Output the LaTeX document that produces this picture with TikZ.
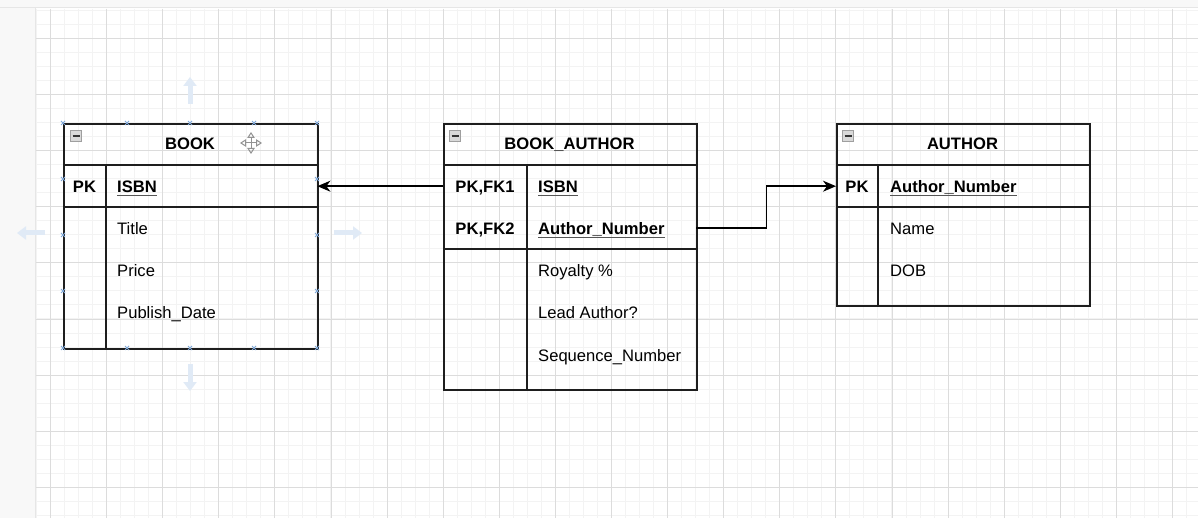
\documentclass[tikz,border=0pt]{standalone}
\usepackage{fontspec}
\setmainfont{Liberation Sans}
\usetikzlibrary{arrows.meta}
\definecolor{gridmaj}{HTML}{DCDCDC}
\definecolor{gridmin}{HTML}{F3F3F3}
\definecolor{stripbg}{HTML}{F8F8F8}
\definecolor{stripline}{HTML}{E6E6E6}
\definecolor{border}{HTML}{1E1E1E}
\definecolor{uiblue}{HTML}{E0EAF6}
\definecolor{handle}{HTML}{7FA8D8}
\definecolor{uline}{HTML}{555555}
\begin{document}
\begin{tikzpicture}[x=1pt,y=-1pt,
  tline/.style={draw=border,line width=1.6pt},
  tbox/.style={draw=border,line width=1.6pt,anchor=north west,inner sep=0pt,minimum width=#1},
  tbox/.default=254pt,
  fld/.style={font=\fontsize{16.6}{20}\selectfont,anchor=base west,inner sep=0pt,text=black},
  keyfld/.style={font=\fontsize{16.6}{20}\selectfont\bfseries,anchor=base west,inner sep=0pt,text=black},
  keylbl/.style={font=\fontsize{16.6}{20}\selectfont\bfseries,anchor=base,inner sep=0pt,text=black},
  ttl/.style={font=\fontsize{16.6}{20}\selectfont\bfseries,anchor=base,inner sep=0pt,text=black},
  tabrow/.style={minimum width=#1,minimum height=42pt,inner sep=0pt,anchor=north west},
  tabrow/.default=254pt,
  ulin/.style={draw=uline,line width=1.4pt},
  fk/.style={draw=black,line width=1.5pt,-{Stealth[length=13pt,width=11pt,inset=4pt]}},
  collapse/.style={draw=gray!75,fill=gray!30,line width=0.8pt},
  uiarrow/.style={draw=uiblue,line width=5pt,-{Triangle[length=9pt,width=13pt]}},
  hmark/.style={draw=handle,line width=0.8pt},
  moveic/.style={draw=gray!85,line width=1pt,{Triangle[open,length=6pt,width=7.5pt]}-{Triangle[open,length=6pt,width=7.5pt]}}
]
\useasboundingbox (0,0) rectangle (1198,518);
% background
\fill[white] (0,0) rectangle (1198,518);
\fill[stripbg] (0,0) rectangle (35,518);
\fill[stripbg] (0,0) rectangle (1198,8);
\draw[stripline,line width=1pt] (0,7.5) -- (1198,7.5);
\draw[stripline,line width=1pt] (35.5,8) -- (35.5,518);
% grid
\foreach \i in {-1,...,81} {
  \pgfmathsetmacro\xx{round(50+\i*14.025)+0.5}
  \draw[gridmin,line width=1pt] (\xx,9) -- (\xx,518);
}
\foreach \i in {-2,...,34} {
  \pgfmathsetmacro\yy{round(38+\i*14.025)+0.5}
  \draw[gridmin,line width=1pt] (36,\yy) -- (1198,\yy);
}
\foreach \i in {0,...,20} {
  \pgfmathsetmacro\xx{round(50+\i*56.1)+0.5}
  \draw[gridmaj,line width=1pt] (\xx,9) -- (\xx,518);
}
\foreach \i in {0,...,8} {
  \pgfmathsetmacro\yy{round(38+\i*56.1)+0.5}
  \draw[gridmaj,line width=1pt] (36,\yy) -- (1198,\yy);
}
% UI selection arrows around BOOK
\draw[uiarrow] (190,104) -- (190,77);
\draw[uiarrow] (190,364) -- (190,391);
\draw[uiarrow] (45,233) -- (17,233);
\draw[uiarrow] (334,233) -- (362,233);

% ---------- BOOK ----------
\node[tbox,minimum height=225pt] (book) at (63,123) {};
\draw[tline] (63,165) -- (317,165);
\draw[tline] (63,207) -- (317,207);
\draw[tline] (106,165) -- (106,348);
\node[tabrow] (book-isbn) at (63,165) {};
\draw[collapse] (70.5,130.5) rectangle (81.5,141.5);
\draw[black!80,line width=1.2pt] (72.5,136) -- (79.5,136);
\node[ttl] (book-title) at (190,150) {BOOK};
\draw[moveic] (240,143) -- (262,143);
\draw[moveic] (251,132) -- (251,154);
\node[keylbl] (book-pk) at (84.5,192.5) {PK};
\node[keyfld] (book-isbn-t) at (117,192.5) {ISBN};
\draw[ulin] ([yshift=-3pt]book-isbn-t.base west) -- ([yshift=-3pt]book-isbn-t.base east);
\node[fld] (book-f1) at (117,234.5) {Title};
\node[fld] (book-f2) at (117,276.5) {Price};
\node[fld] (book-f3) at (117,318.5) {Publish\_Date};
% selection handles
\foreach \hx/\hy in {63/123,127/123,190/123,254/123,317/123,63/348,127/348,190/348,254/348,317/348,63/179,63/235,63/291,317/179,317/235,317/291} {
  \draw[hmark] (\hx-2,\hy-2) -- (\hx+2,\hy+2) (\hx-2,\hy+2) -- (\hx+2,\hy-2);
}

% ---------- BOOK_AUTHOR ----------
\node[tbox=253pt,minimum height=266pt] (ba) at (443,123) {};
\draw[tline] (443,165) -- (696,165);
\draw[tline] (443,249) -- (696,249);
\draw[tline] (527,165) -- (527,389);
\node[tabrow=253pt] (ba-isbn) at (443,165) {};
\node[tabrow=253pt] (ba-an) at (443,207) {};
\draw[collapse] (449.5,130.5) rectangle (460.5,141.5);
\draw[black!80,line width=1.2pt] (451.5,136) -- (458.5,136);
\node[ttl] (ba-title) at (569.5,150) {BOOK\_AUTHOR};
\node[keylbl] (ba-k1) at (485,192.5) {PK,FK1};
\node[keylbl] (ba-k2) at (485,234.5) {PK,FK2};
\node[keyfld] (ba-isbn-t) at (538,192.5) {ISBN};
\draw[ulin] ([yshift=-3pt]ba-isbn-t.base west) -- ([yshift=-3pt]ba-isbn-t.base east);
\node[keyfld] (ba-an-t) at (538,234.5) {Author\_Number};
\draw[ulin] ([yshift=-3pt]ba-an-t.base west) -- ([yshift=-3pt]ba-an-t.base east);
\node[fld] (ba-f1) at (538,276.5) {Royalty \%};
\node[fld] (ba-f2) at (538,318.5) {Lead Author?};
\node[fld] (ba-f3) at (538,361) {Sequence\_Number};

% ---------- AUTHOR ----------
\node[tbox=253pt,minimum height=182pt] (au) at (836,123) {};
\draw[tline] (836,165) -- (1089,165);
\draw[tline] (836,207) -- (1089,207);
\draw[tline] (878,165) -- (878,305);
\node[tabrow=253pt] (au-an) at (836,165) {};
\draw[collapse] (842.5,130.5) rectangle (853.5,141.5);
\draw[black!80,line width=1.2pt] (844.5,136) -- (851.5,136);
\node[ttl] (au-title) at (962.5,150) {AUTHOR};
\node[keylbl] (au-pk) at (857,192.5) {PK};
\node[keyfld] (au-an-t) at (890,192.5) {Author\_Number};
\draw[ulin] ([yshift=-3pt]au-an-t.base west) -- ([yshift=-3pt]au-an-t.base east);
\node[fld] (au-f1) at (890,234.5) {Name};
\node[fld] (au-f2) at (890,276.5) {DOB};

% ---------- connectors ----------
\draw[fk] (ba-isbn.west) -- (book-isbn.east);
\draw[fk] (ba-an.east) -- ++(70,0) |- (au-an.west);
\end{tikzpicture}
\end{document}
